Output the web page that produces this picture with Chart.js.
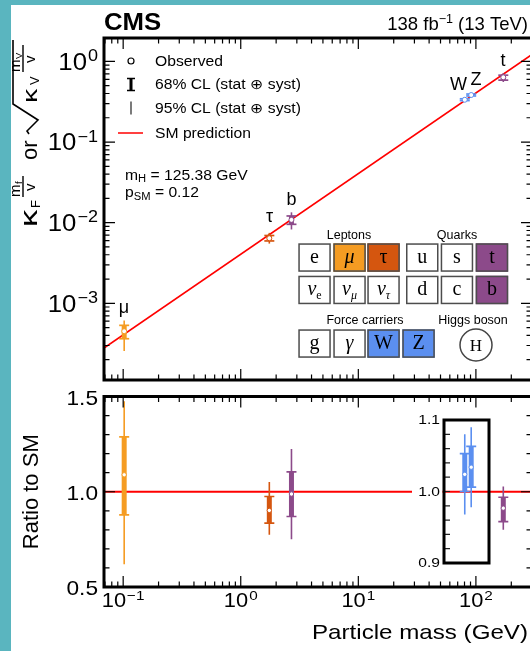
<!DOCTYPE html>
<html>
<head>
<meta charset="utf-8">
<script src="https://cdn.jsdelivr.net/npm/chart.js@4/dist/chart.umd.min.js"></script>
<style>
  html, body { margin: 0; padding: 0; width: 530px; height: 651px; overflow: hidden; background: #fff; }
  .edge-l { position: absolute; left: 0; top: 0; width: 11px; height: 651px; background: #5ab5bf; }
  .edge-t { position: absolute; left: 0; top: 0; width: 530px; height: 5px; background: #5ab5bf; }
  canvas { position: absolute; left: 0; top: 0; }
</style>
</head>
<body>
<div class="edge-l"></div><div class="edge-t"></div>
<canvas id="top" width="540" height="651"></canvas>
<canvas id="bottom" width="540" height="651"></canvas>
<script>
// values
const particles  = ['μ', 'τ', 'b', 'W', 'Z', 't'];
const massGeV    = [0.102, 1.75, 2.70, 80.4, 91.2, 171];
const smCoupling = [4.14e-4, 7.11e-3, 1.097e-2, 0.3265, 0.3704, 0.6945]; // SM expectation at each mass
const ratioObs   = [1.089, 0.902, 0.988, 1.024, 1.034, 0.914];
const ratio68Lo  = [0.879, 0.835, 0.870, 1.000, 1.006, 0.843];
const ratio68Hi  = [1.288, 0.975, 1.104, 1.053, 1.063, 0.971];
const ratio95Lo  = [0.619, 0.774, 0.751, 0.968, 0.978, 0.800];
const ratio95Hi  = [1.475, 1.051, 1.225, 1.080, 1.090, 1.028];
const smLineMass  = [0.0687, 300];
const smLineValue = [2.79e-4, 1.218];
const ratioLineValue = [1, 1];
const xDecades   = [0.1, 1, 10, 100];
const topDecades = [1e-3, 1e-2, 1e-1, 1];
const ratioTicks = [0.5, 1.0, 1.5];
const insetTicks = [0.9, 1.0, 1.1];
const mainParticles  = [0, 1, 2, 5];
const insetParticles = [3, 4];
const tableLeptons = ['e', 'μ', 'τ'];
const tableQuarks  = ['u', 's', 't'];
const tableNeutrinos = ['e', 'μ', 'τ'];
const tableQuarks2 = ['d', 'c', 'b'];
const tableBosons  = ['g', 'γ', 'W', 'Z'];

const colours = ['#f59c22', '#d5560f', '#8c4a8a', '#5b8ff0', '#5b8ff0', '#8c4a8a'];

const CW = 540, CH = 651;
const X0 = 104, X1 = 532;
const TOP_Y0 = 38, TOP_Y1 = 380;
const BOT_Y0 = 396.5, BOT_Y1 = 587;
const XMIN = smLineMass[0], XMAX = smLineMass[1];
const INSET = { left: 444, right: 489, top: 420, bottom: 563 };
const perPx = (insetTicks[2] - insetTicks[0]) / (INSET.bottom - INSET.top);
const insetMax = insetTicks[2] + (INSET.top - BOT_Y0) * perPx;
const insetMin = insetTicks[0] - (BOT_Y1 - INSET.bottom) * perPx;

const SANS = '"Liberation Sans", Arial, Helvetica, sans-serif';
const SERIF = '"Liberation Serif", "DejaVu Serif", serif';
const SX = 1.12;

function measure(ctx, s, size, o = {}) {
  ctx.save();
  ctx.font = (o.italic ? 'italic ' : '') + (o.bold ? 'bold ' : '') + size + 'px ' + (o.family || SANS);
  const w = ctx.measureText(s).width;
  ctx.restore();
  return w * (o.sx ?? SX);
}

function txt(ctx, s, x, y, size, o = {}) {
  ctx.save();
  ctx.font = (o.italic ? 'italic ' : '') + (o.bold ? 'bold ' : '') + size + 'px ' + (o.family || SANS);
  ctx.fillStyle = o.color || '#000';
  ctx.textAlign = 'left';
  ctx.textBaseline = 'alphabetic';
  const w0 = ctx.measureText(s).width;
  const sx = o.width ? o.width / w0 : (o.sx ?? SX);
  const w = w0 * sx;
  const left = o.align === 'center' ? x - w / 2 : o.align === 'right' ? x - w : x;
  ctx.translate(left, y);
  ctx.scale(sx, 1);
  ctx.fillText(s, 0, 0);
  ctx.restore();
  return w;
}

function expText(v) {
  const e = Math.round(Math.log10(v));
  return e < 0 ? '\u2212' + (-e) : String(e);
}

// "10" with a raised exponent
function powLabel(ctx, v, x, y, size, align) {
  const sup = size * 0.7;
  const e = expText(v);
  const wb = measure(ctx, '10', size);
  const we = measure(ctx, e, sup);
  const total = wb + we + 1;
  const left = align === 'right' ? x - total : x - total / 2;
  txt(ctx, '10', left, y, size);
  txt(ctx, e, left + wb + 1, y - size * 0.37, sup);
}

function logTicks(lo, hi) {
  const out = [];
  for (let d = Math.floor(Math.log10(lo)); d <= Math.ceil(Math.log10(hi)); d++) {
    for (let k = 1; k < 10; k++) {
      const v = k * Math.pow(10, d);
      if (v >= lo && v <= hi) out.push({ v, major: k === 1 });
    }
  }
  return out;
}

function drawFrame(ctx, area, xs, yTicks) {
  ctx.save();
  ctx.strokeStyle = '#000';
  ctx.lineWidth = 1.2;
  ctx.beginPath();
  for (const t of logTicks(XMIN, XMAX)) {
    const px = xs.getPixelForValue(t.v);
    const len = t.major ? 11 : 5.5;
    ctx.moveTo(px, area.top); ctx.lineTo(px, area.top + len);
    ctx.moveTo(px, area.bottom); ctx.lineTo(px, area.bottom - len);
  }
  for (const t of yTicks) {
    const len = t.major ? 11 : 5.5;
    ctx.moveTo(area.left, t.py); ctx.lineTo(area.left + len, t.py);
    ctx.moveTo(area.right, t.py); ctx.lineTo(area.right - len, t.py);
  }
  ctx.stroke();
  ctx.lineWidth = 3;
  ctx.strokeRect(area.left, area.top, area.right - area.left, area.bottom - area.top);
  ctx.restore();
}

function errorSets(yOf, yAxisID, list, markerR) {
  const sets = [];
  list.forEach(i => {
    const c = colours[i], m = massGeV[i];
    sets.push({
      data: [{ x: m, y: yOf(ratio95Lo[i], i) }, { x: m, y: yOf(ratio95Hi[i], i) }],
      showLine: true, borderColor: c, borderWidth: 1.6, pointRadius: 0, yAxisID, order: 3
    });
    sets.push({
      data: [{ x: m, y: yOf(ratio68Lo[i], i) }, { x: m, y: yOf(ratio68Hi[i], i) }],
      showLine: true, borderColor: c, borderWidth: 5, borderCapStyle: 'butt',
      pointStyle: 'line', pointRadius: 5, pointBorderColor: c, pointBorderWidth: 1.7,
      yAxisID, order: 2
    });
    sets.push({
      data: [{ x: m, y: yOf(ratioObs[i], i) }],
      pointStyle: 'circle', pointRadius: markerR, pointBackgroundColor: '#fff',
      pointBorderColor: c, pointBorderWidth: 1, yAxisID, order: 1
    });
  });
  return sets;
}

function baseOptions(yScales, padding) {
  return {
    responsive: false, animation: false, events: [], devicePixelRatio: 1,
    layout: { padding },
    plugins: { legend: { display: false }, tooltip: { enabled: false } },
    scales: Object.assign({ x: { type: 'logarithmic', min: XMIN, max: XMAX, display: false } }, yScales)
  };
}

// particle table drawn in the upper panel
const BW = 32.5, BH = 28.5;
function tableBox(ctx, x, y, fill, label, italic, sub) {
  ctx.save();
  ctx.fillStyle = fill || '#fff';
  ctx.fillRect(x, y, BW, BH);
  ctx.strokeStyle = '#4d4d4d';
  ctx.lineWidth = 1.5;
  ctx.strokeRect(x + 0.75, y + 0.75, BW - 1.5, BH - 1.5);
  ctx.restore();
  const o = { family: SERIF, italic, sx: 1 };
  const w1 = measure(ctx, label, 20, o);
  const w2 = sub ? measure(ctx, sub, 12, { family: SERIF, italic: sub !== 'e', sx: 1 }) : 0;
  const left = x + BW / 2 - (w1 + w2) / 2;
  txt(ctx, label, left, y + BH - 9, 20, o);
  if (sub) txt(ctx, sub, left + w1, y + BH - 5, 12, { family: SERIF, italic: sub !== 'e', sx: 1 });
}

function drawTable(ctx) {
  const cols = [298.3, 333.3, 367.3, 406, 440.7, 475.7];
  const row1 = 243.3, row2 = 275.7, row3 = 329.3;
  const fills1 = [null, colours[0], colours[1], null, null, colours[5]];
  const fills2 = [null, null, null, null, null, colours[2]];
  tableLeptons.concat(tableQuarks).forEach((s, k) =>
    tableBox(ctx, cols[k], row1, fills1[k], s, s === 'μ', null));
  tableNeutrinos.forEach((s, k) => tableBox(ctx, cols[k], row2, null, 'ν', true, s));
  tableQuarks2.forEach((s, k) => tableBox(ctx, cols[k + 3], row2, fills2[k + 3], s, false, null));
  const fills3 = [null, null, colours[3], colours[4]];
  const cols3 = [298.3, 333.3, 367.3, 402.3];
  tableBosons.forEach((s, k) => tableBox(ctx, cols3[k], row3, fills3[k], s, s === 'γ', null));
  txt(ctx, 'Leptons', 349, 239, 12.5, { align: 'center', sx: 1 });
  txt(ctx, 'Quarks', 457, 239, 12.5, { align: 'center', sx: 1 });
  txt(ctx, 'Force carriers', 365, 323.5, 12.5, { align: 'center', sx: 1 });
  txt(ctx, 'Higgs boson', 473, 323.5, 12.5, { align: 'center', sx: 1 });
  ctx.save();
  ctx.beginPath();
  ctx.arc(476, 345, 16, 0, Math.PI * 2);
  ctx.fillStyle = '#fff'; ctx.fill();
  ctx.strokeStyle = '#444'; ctx.lineWidth = 1.5; ctx.stroke();
  ctx.restore();
  txt(ctx, 'H', 476, 351, 17, { family: SERIF, align: 'center', sx: 1 });
}

function drawTopTitle(ctx) {
  ctx.save();
  ctx.translate(37, 227);
  ctx.rotate(-Math.PI / 2);
  txt(ctx, 'κ', 0, 0, 23, { sx: 1.5 });
  txt(ctx, 'F', 19, 3, 13, { sx: 1 });
  txt(ctx, 'm', 30, -17, 15, { sx: 1 });
  txt(ctx, 'f', 43, -15.5, 9.5, { sx: 1 });
  txt(ctx, 'v', 36, -2.5, 15, { sx: 1 });
  txt(ctx, 'or', 67, 0, 22, { sx: 1 });
  txt(ctx, 'κ', 124, 0, 21, { sx: 1.35 });
  txt(ctx, 'V', 142, 1.5, 13, { sx: 1 });
  txt(ctx, 'm', 155, -17, 15, { sx: 1 });
  txt(ctx, 'V', 168, -15.5, 9.5, { sx: 1 });
  txt(ctx, 'v', 164, -2.5, 15, { sx: 1 });
  ctx.strokeStyle = '#000';
  ctx.lineWidth = 1.4;
  ctx.beginPath();
  ctx.moveTo(30, -14); ctx.lineTo(51, -14);
  ctx.moveTo(155, -14); ctx.lineTo(182, -14);
  ctx.stroke();
  ctx.lineWidth = 1.6;
  ctx.beginPath();
  ctx.moveTo(93, -8); ctx.lineTo(96, -10); ctx.lineTo(107, 1); ctx.lineTo(123, -24); ctx.lineTo(187, -24);
  ctx.stroke();
  ctx.restore();
}

const topDecor = {
  id: 'topDecor',
  afterDatasetsDraw(chart) {
    const ctx = chart.ctx, a = chart.chartArea, xs = chart.scales.x, ys = chart.scales.y;
    const yt = logTicks(ys.min, ys.max).map(t => ({ py: ys.getPixelForValue(t.v), major: t.major }));
    drawFrame(ctx, a, xs, yt);
    topDecades.forEach(v => powLabel(ctx, v, 98, ys.getPixelForValue(v) + 8.3, 23, 'right'));

    txt(ctx, 'CMS', X0, 30, 23, { bold: true, sx: 1.12 });
    const w1 = measure(ctx, '138 fb', 18.5, { sx: 1 });
    const w2 = measure(ctx, '\u22121', 12.5, { sx: 1 });
    const w3 = measure(ctx, ' (13 TeV)', 18.5, { sx: 1 });
    let lx = 528 - (w1 + w2 + w3);
    txt(ctx, '138 fb', lx, 30, 18.5, { sx: 1 }); lx += w1;
    txt(ctx, '\u22121', lx, 23, 12.5, { sx: 1 }); lx += w2;
    txt(ctx, ' (13 TeV)', lx, 30, 18.5, { sx: 1 });

    // legend
    ctx.save();
    ctx.strokeStyle = '#000'; ctx.lineWidth = 1.2;
    ctx.beginPath(); ctx.arc(131, 61, 3, 0, Math.PI * 2); ctx.stroke();
    ctx.lineWidth = 3;
    ctx.beginPath(); ctx.moveTo(131, 78); ctx.lineTo(131, 91); ctx.stroke();
    ctx.lineWidth = 1.6;
    ctx.beginPath(); ctx.moveTo(127, 78.5); ctx.lineTo(135, 78.5); ctx.moveTo(127, 90.5); ctx.lineTo(135, 90.5); ctx.stroke();
    ctx.strokeStyle = '#333'; ctx.lineWidth = 1.3;
    ctx.beginPath(); ctx.moveTo(131, 101.5); ctx.lineTo(131, 114.5); ctx.stroke();
    ctx.strokeStyle = '#ff0000'; ctx.lineWidth = 1.5;
    ctx.beginPath(); ctx.moveTo(118, 133); ctx.lineTo(143, 133); ctx.stroke();
    ctx.restore();
    txt(ctx, 'Observed', 155, 66, 14);
    txt(ctx, '68% CL (stat \u2295 syst)', 155, 89, 14);
    txt(ctx, '95% CL (stat \u2295 syst)', 155, 113, 14);
    txt(ctx, 'SM prediction', 155, 138, 14);

    let w = txt(ctx, 'm', 125, 179.5, 14);
    w += txt(ctx, 'H', 125 + w, 182, 10);
    txt(ctx, ' = 125.38 GeV', 125 + w, 179.5, 14);
    w = txt(ctx, 'p', 125, 197, 14);
    w += txt(ctx, 'SM', 125 + w, 200, 10);
    txt(ctx, ' = 0.12', 125 + w, 197, 14);

    // particle names next to the points
    txt(ctx, particles[0], 124, 313, 18, { align: 'center', sx: 1 });
    txt(ctx, particles[1], 269.5, 222, 18, { align: 'center', sx: 1 });
    txt(ctx, particles[2], 291.5, 205, 18, { align: 'center', sx: 1 });
    txt(ctx, particles[3], 458.5, 90, 18, { align: 'center', sx: 1 });
    txt(ctx, particles[4], 476, 85, 18, { align: 'center', sx: 1 });
    txt(ctx, particles[5], 503, 66, 18, { align: 'center', sx: 1 });

    drawTable(ctx);
    drawTopTitle(ctx);
  }
};

const bottomDecor = {
  id: 'bottomDecor',
  afterDatasetsDraw(chart) {
    const ctx = chart.ctx, a = chart.chartArea, xs = chart.scales.x, ys = chart.scales.y, yi = chart.scales.yi;
    // inset for W and Z
    ctx.save();
    ctx.fillStyle = '#fff';
    ctx.fillRect(412, 405, 30.5, 170);
    ctx.strokeStyle = '#222'; ctx.lineWidth = 1.2;
    ctx.beginPath();
    for (let k = 46; k <= 54; k++) {
      const py = yi.getPixelForValue(k / 50);
      ctx.moveTo(INSET.left, py); ctx.lineTo(INSET.left + 6, py);
    }
    ctx.stroke();
    ctx.strokeStyle = '#000'; ctx.lineWidth = 3;
    ctx.strokeRect(INSET.left, INSET.top, INSET.right - INSET.left, INSET.bottom - INSET.top);
    ctx.restore();
    insetTicks.forEach(v => txt(ctx, v.toFixed(1), 440, yi.getPixelForValue(v) + 4.3, 12, { align: 'right', sx: 1.3 }));

    const yt = [];
    for (let k = 5; k <= 15; k++) yt.push({ py: ys.getPixelForValue(k / 10), major: k % 5 === 0 });
    drawFrame(ctx, a, xs, yt);
    ratioTicks.forEach(v => txt(ctx, v.toFixed(1), 98, ys.getPixelForValue(v) + 8.3, 21, { align: 'right', sx: 1.08 }));
    xDecades.forEach(v => powLabel(ctx, v, xs.getPixelForValue(v), 607, 19.5, 'center'));
    txt(ctx, 'Particle mass (GeV)', 528, 639, 21, { align: 'right', width: 216 });

    ctx.save();
    ctx.translate(38, (BOT_Y0 + BOT_Y1) / 2);
    ctx.rotate(-Math.PI / 2);
    txt(ctx, 'Ratio to SM', 0, 0, 22, { align: 'center', sx: 1 });
    ctx.restore();
  }
};

new Chart(document.getElementById('top'), {
  type: 'scatter',
  data: {
    datasets: [
      {
        data: smLineMass.map((m, k) => ({ x: m, y: smLineValue[k] })),
        showLine: true, borderColor: '#ff0000', borderWidth: 1.5, pointRadius: 0, order: 10
      },
      ...errorSets((r, i) => r * smCoupling[i], 'y', [0, 1, 2, 3, 4, 5], 2.5)
    ]
  },
  options: baseOptions(
    { y: { type: 'logarithmic', min: 1.12e-4, max: 1.95, display: false } },
    { left: X0, right: CW - X1, top: TOP_Y0, bottom: CH - TOP_Y1 }
  ),
  plugins: [topDecor]
});

new Chart(document.getElementById('bottom'), {
  type: 'scatter',
  data: {
    datasets: [
      {
        data: smLineMass.map((m, k) => ({ x: m, y: ratioLineValue[k] })),
        showLine: true, borderColor: '#ff0000', borderWidth: 2, pointRadius: 0, order: 10
      },
      ...errorSets(r => r, 'y', mainParticles, 2.2),
      ...errorSets(r => r, 'yi', insetParticles, 2.2)
    ]
  },
  options: baseOptions(
    {
      y: { type: 'linear', min: ratioTicks[0], max: ratioTicks[2], display: false },
      yi: { type: 'linear', min: insetMin, max: insetMax, display: false }
    },
    { left: X0, right: CW - X1, top: BOT_Y0, bottom: CH - BOT_Y1 }
  ),
  plugins: [bottomDecor]
});
</script>
</body>
</html>
